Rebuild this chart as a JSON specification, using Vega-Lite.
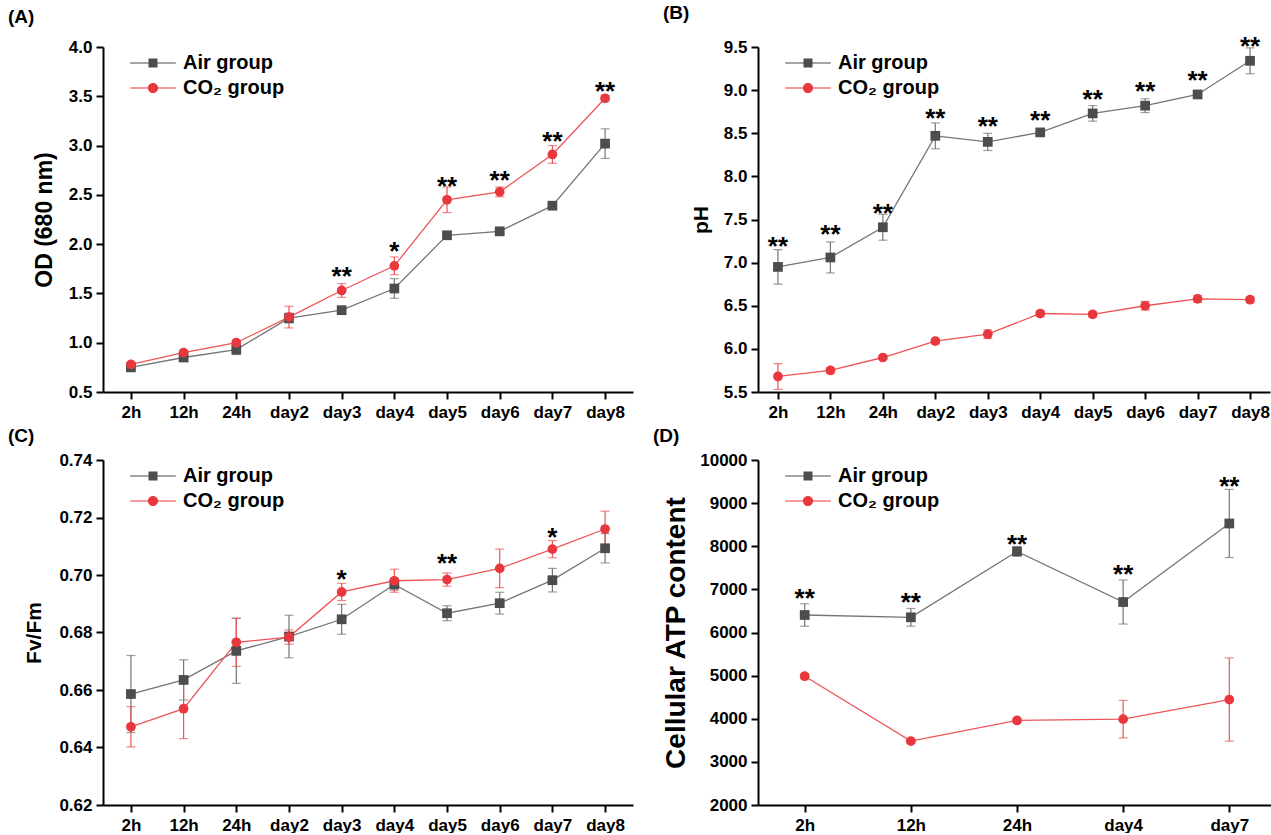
{
  "$schema": "https://vega.github.io/schema/vega-lite/v6.json",
  "padding": {"left": 8, "top": 4, "right": 0, "bottom": 0},
  "spacing": 20,
  "background": "white",
  "config": {
    "font": "Liberation Sans",
    "view": {"stroke": null},
    "axis": {"domainColor": "black", "domainWidth": 2, "tickColor": "black", "tickWidth": 2, "tickSize": 7, "labelFont": "Liberation Sans", "labelFontWeight": "bold", "labelFontSize": 17, "labelColor": "black", "titleFont": "Liberation Sans", "titleFontSize": 22, "titleFontWeight": "bold", "titleColor": "black", "grid": false, "labelPadding": 4, "titlePadding": 12},
    "axisX": {"labelAngle": 0, "labelPadding": 5},
    "title": {"font": "Liberation Sans", "fontSize": 19, "fontWeight": "bold", "anchor": "start", "frame": "group", "color": "black"},
    "legend": {"title": null, "orient": "none", "legendX": 40, "legendY": 6, "labelFont": "Liberation Sans", "labelFontSize": 20, "labelFontWeight": "bold", "labelColor": "black", "symbolSize": 144, "symbolOpacity": 1, "symbolStrokeWidth": 0, "labelOffset": 20, "rowPadding": 5, "padding": 0}
  },
  "resolve": {"scale": {"color": "independent", "shape": "independent"}, "legend": {"color": "independent", "shape": "independent"}},
  "hconcat": [
    {
      "spacing": 7,
      "resolve": {"scale": {"color": "independent", "shape": "independent"}, "legend": {"color": "independent", "shape": "independent"}},
      "vconcat": [
        {
          "width": 530, "height": 345,
          "title": {"text": "(A)", "dx": -95, "offset": 11},
          "data": {"values": [
            {"t": "2h", "g": "Air group", "m": 0.75, "e": 0.02},
            {"t": "12h", "g": "Air group", "m": 0.85, "e": 0.02},
            {"t": "24h", "g": "Air group", "m": 0.93, "e": 0.05},
            {"t": "day2", "g": "Air group", "m": 1.25, "e": 0.05},
            {"t": "day3", "g": "Air group", "m": 1.33, "e": 0.02},
            {"t": "day4", "g": "Air group", "m": 1.55, "e": 0.10},
            {"t": "day5", "g": "Air group", "m": 2.09, "e": 0.02},
            {"t": "day6", "g": "Air group", "m": 2.13, "e": 0.03},
            {"t": "day7", "g": "Air group", "m": 2.39, "e": 0.02},
            {"t": "day8", "g": "Air group", "m": 3.02, "e": 0.15},
            {"t": "2h", "g": "CO₂ group", "m": 0.78, "e": 0.02},
            {"t": "12h", "g": "CO₂ group", "m": 0.90, "e": 0.02},
            {"t": "24h", "g": "CO₂ group", "m": 1.00, "e": 0.02},
            {"t": "day2", "g": "CO₂ group", "m": 1.26, "e": 0.11},
            {"t": "day3", "g": "CO₂ group", "m": 1.53, "e": 0.07},
            {"t": "day4", "g": "CO₂ group", "m": 1.78, "e": 0.09},
            {"t": "day5", "g": "CO₂ group", "m": 2.45, "e": 0.13},
            {"t": "day6", "g": "CO₂ group", "m": 2.53, "e": 0.05},
            {"t": "day7", "g": "CO₂ group", "m": 2.91, "e": 0.09},
            {"t": "day8", "g": "CO₂ group", "m": 3.48, "e": 0.03}
          ]},
          "encoding": {
            "x": {"field": "t", "type": "ordinal", "sort": ["2h", "12h", "24h", "day2", "day3", "day4", "day5", "day6", "day7", "day8"], "scale": {"type": "point", "padding": 0.53}, "axis": {"title": null}},
            "y": {"field": "m", "type": "quantitative", "scale": {"domain": [0.5, 4.0], "nice": false, "zero": false}, "axis": {"title": "OD (680 nm)", "titleFontSize": 23, "values": [0.5, 1.0, 1.5, 2.0, 2.5, 3.0, 3.5, 4.0], "format": ".1f"}}
          },
          "resolve": {"scale": {"color": "independent", "shape": "independent"}, "legend": {"color": "independent", "shape": "independent"}},
          "layer": [
            {"mark": {"type": "errorbar", "ticks": {"size": 9, "thickness": 1.2}, "thickness": 1.2}, "encoding": {"yError": {"field": "e"}, "color": {"field": "g", "type": "nominal", "scale": {"domain": ["Air group", "CO₂ group"], "range": ["#757575", "#ee5358"]}, "legend": null}}},
            {"mark": {"type": "line", "strokeWidth": 1.3}, "encoding": {"color": {"field": "g", "type": "nominal", "scale": {"domain": ["Air group", "CO₂ group"], "range": ["#757575", "#ee5358"]}, "legend": null}}},
            {"mark": {"type": "point", "filled": true, "size": 95, "opacity": 1}, "encoding": {"color": {"field": "g", "type": "nominal", "scale": {"domain": ["Air group", "CO₂ group"], "range": ["#4d4d4d", "#e8383d"]}, "legend": null}, "shape": {"field": "g", "type": "nominal", "scale": {"domain": ["Air group", "CO₂ group"], "range": ["square", "circle"]}, "legend": null}}},
            {"data": {"values": []}, "mark": {"type": "point", "filled": true, "size": 144}, "encoding": {"color": {"field": "g", "type": "nominal", "scale": {"domain": ["Air group", "CO₂ group"], "range": ["#4d4d4d", "#e8383d"]}}, "shape": {"field": "g", "type": "nominal", "scale": {"domain": ["Air group", "CO₂ group"], "range": ["M-3.8,-0.1H3.8V0.1H-3.8Z M-0.75,-0.75H0.75V0.75H-0.75Z", "M-3.8,-0.1H3.8V0.1H-3.8Z M-0.85,0A0.85,0.85 0 1,1 0.85,0A0.85,0.85 0 1,1 -0.85,0Z"]}}}},
            {"data": {"values": [
              {"t": "day3", "m": 1.726, "s": "**"},
              {"t": "day4", "m": 1.98, "s": "*"},
              {"t": "day5", "m": 2.638, "s": "**"},
              {"t": "day6", "m": 2.706, "s": "**"},
              {"t": "day7", "m": 3.095, "s": "**"},
              {"t": "day8", "m": 3.608, "s": "**"}
            ]}, "mark": {"type": "text", "fontSize": 26, "fontWeight": "bold", "baseline": "alphabetic", "dy": 14, "color": "black"}, "encoding": {"text": {"field": "s"}}}
          ]
        },
        {
          "width": 530, "height": 345,
          "title": {"text": "(C)", "dx": -95, "offset": 5},
          "data": {"values": [
            {"t": "2h", "g": "Air group", "m": 0.6586, "e": 0.0134},
            {"t": "12h", "g": "Air group", "m": 0.6635, "e": 0.007},
            {"t": "24h", "g": "Air group", "m": 0.6736, "e": 0.0113},
            {"t": "day2", "g": "Air group", "m": 0.6786, "e": 0.0074},
            {"t": "day3", "g": "Air group", "m": 0.6846, "e": 0.0052},
            {"t": "day4", "g": "Air group", "m": 0.6967, "e": 0.002},
            {"t": "day5", "g": "Air group", "m": 0.6867, "e": 0.0026},
            {"t": "day6", "g": "Air group", "m": 0.6902, "e": 0.0038},
            {"t": "day7", "g": "Air group", "m": 0.6982, "e": 0.0041},
            {"t": "day8", "g": "Air group", "m": 0.7093, "e": 0.0051},
            {"t": "2h", "g": "CO₂ group", "m": 0.6472, "e": 0.007},
            {"t": "12h", "g": "CO₂ group", "m": 0.6535, "e": 0.0104},
            {"t": "24h", "g": "CO₂ group", "m": 0.6766, "e": 0.0084},
            {"t": "day2", "g": "CO₂ group", "m": 0.6784, "e": 0.0025},
            {"t": "day3", "g": "CO₂ group", "m": 0.6941, "e": 0.003},
            {"t": "day4", "g": "CO₂ group", "m": 0.6980, "e": 0.004},
            {"t": "day5", "g": "CO₂ group", "m": 0.6984, "e": 0.0023},
            {"t": "day6", "g": "CO₂ group", "m": 0.7023, "e": 0.0067},
            {"t": "day7", "g": "CO₂ group", "m": 0.7090, "e": 0.003},
            {"t": "day8", "g": "CO₂ group", "m": 0.7160, "e": 0.0062}
          ]},
          "encoding": {
            "x": {"field": "t", "type": "ordinal", "sort": ["2h", "12h", "24h", "day2", "day3", "day4", "day5", "day6", "day7", "day8"], "scale": {"type": "point", "padding": 0.53}, "axis": {"title": null}},
            "y": {"field": "m", "type": "quantitative", "scale": {"domain": [0.62, 0.74], "nice": false, "zero": false}, "axis": {"title": "Fv/Fm", "titleFontSize": 21, "titlePadding": 14, "values": [0.62, 0.64, 0.66, 0.68, 0.70, 0.72, 0.74], "format": ".2f"}}
          },
          "resolve": {"scale": {"color": "independent", "shape": "independent"}, "legend": {"color": "independent", "shape": "independent"}},
          "layer": [
            {"mark": {"type": "errorbar", "ticks": {"size": 9, "thickness": 1.2}, "thickness": 1.2}, "encoding": {"yError": {"field": "e"}, "color": {"field": "g", "type": "nominal", "scale": {"domain": ["Air group", "CO₂ group"], "range": ["#757575", "#ee5358"]}, "legend": null}}},
            {"mark": {"type": "line", "strokeWidth": 1.3}, "encoding": {"color": {"field": "g", "type": "nominal", "scale": {"domain": ["Air group", "CO₂ group"], "range": ["#757575", "#ee5358"]}, "legend": null}}},
            {"mark": {"type": "point", "filled": true, "size": 95, "opacity": 1}, "encoding": {"color": {"field": "g", "type": "nominal", "scale": {"domain": ["Air group", "CO₂ group"], "range": ["#4d4d4d", "#e8383d"]}, "legend": null}, "shape": {"field": "g", "type": "nominal", "scale": {"domain": ["Air group", "CO₂ group"], "range": ["square", "circle"]}, "legend": null}}},
            {"data": {"values": []}, "mark": {"type": "point", "filled": true, "size": 144}, "encoding": {"color": {"field": "g", "type": "nominal", "scale": {"domain": ["Air group", "CO₂ group"], "range": ["#4d4d4d", "#e8383d"]}}, "shape": {"field": "g", "type": "nominal", "scale": {"domain": ["Air group", "CO₂ group"], "range": ["M-3.8,-0.1H3.8V0.1H-3.8Z M-0.75,-0.75H0.75V0.75H-0.75Z", "M-3.8,-0.1H3.8V0.1H-3.8Z M-0.85,0A0.85,0.85 0 1,1 0.85,0A0.85,0.85 0 1,1 -0.85,0Z"]}}}},
            {"data": {"values": [
              {"t": "day3", "m": 0.7003, "s": "*"},
              {"t": "day5", "m": 0.7059, "s": "**"},
              {"t": "day7", "m": 0.7150, "s": "*"}
            ]}, "mark": {"type": "text", "fontSize": 26, "fontWeight": "bold", "baseline": "alphabetic", "dy": 14, "color": "black"}, "encoding": {"text": {"field": "s"}}}
          ]
        }
      ]
    },
    {
      "spacing": 7,
      "resolve": {"scale": {"color": "independent", "shape": "independent"}, "legend": {"color": "independent", "shape": "independent"}},
      "vconcat": [
        {
          "width": 512, "height": 345,
          "title": {"text": "(B)", "dx": -95, "offset": 11},
          "data": {"values": [
            {"t": "2h", "g": "Air group", "m": 6.95, "e": 0.20},
            {"t": "12h", "g": "Air group", "m": 7.06, "e": 0.18},
            {"t": "24h", "g": "Air group", "m": 7.41, "e": 0.15},
            {"t": "day2", "g": "Air group", "m": 8.47, "e": 0.15},
            {"t": "day3", "g": "Air group", "m": 8.40, "e": 0.10},
            {"t": "day4", "g": "Air group", "m": 8.51, "e": 0.03},
            {"t": "day5", "g": "Air group", "m": 8.73, "e": 0.09},
            {"t": "day6", "g": "Air group", "m": 8.82, "e": 0.08},
            {"t": "day7", "g": "Air group", "m": 8.95, "e": 0.03},
            {"t": "day8", "g": "Air group", "m": 9.34, "e": 0.15},
            {"t": "2h", "g": "CO₂ group", "m": 5.68, "e": 0.15},
            {"t": "12h", "g": "CO₂ group", "m": 5.75, "e": 0.03},
            {"t": "24h", "g": "CO₂ group", "m": 5.90, "e": 0.02},
            {"t": "day2", "g": "CO₂ group", "m": 6.09, "e": 0.03},
            {"t": "day3", "g": "CO₂ group", "m": 6.17, "e": 0.05},
            {"t": "day4", "g": "CO₂ group", "m": 6.41, "e": 0.03},
            {"t": "day5", "g": "CO₂ group", "m": 6.40, "e": 0.03},
            {"t": "day6", "g": "CO₂ group", "m": 6.50, "e": 0.05},
            {"t": "day7", "g": "CO₂ group", "m": 6.58, "e": 0.04},
            {"t": "day8", "g": "CO₂ group", "m": 6.57, "e": 0.03}
          ]},
          "encoding": {
            "x": {"field": "t", "type": "ordinal", "sort": ["2h", "12h", "24h", "day2", "day3", "day4", "day5", "day6", "day7", "day8"], "scale": {"type": "point", "padding": 0.38}, "axis": {"title": null}},
            "y": {"field": "m", "type": "quantitative", "scale": {"domain": [5.5, 9.5], "nice": false, "zero": false}, "axis": {"title": "pH", "titleFontSize": 21, "values": [5.5, 6.0, 6.5, 7.0, 7.5, 8.0, 8.5, 9.0, 9.5], "format": ".1f"}}
          },
          "resolve": {"scale": {"color": "independent", "shape": "independent"}, "legend": {"color": "independent", "shape": "independent"}},
          "layer": [
            {"mark": {"type": "errorbar", "ticks": {"size": 9, "thickness": 1.2}, "thickness": 1.2}, "encoding": {"yError": {"field": "e"}, "color": {"field": "g", "type": "nominal", "scale": {"domain": ["Air group", "CO₂ group"], "range": ["#757575", "#ee5358"]}, "legend": null}}},
            {"mark": {"type": "line", "strokeWidth": 1.3}, "encoding": {"color": {"field": "g", "type": "nominal", "scale": {"domain": ["Air group", "CO₂ group"], "range": ["#757575", "#ee5358"]}, "legend": null}}},
            {"mark": {"type": "point", "filled": true, "size": 95, "opacity": 1}, "encoding": {"color": {"field": "g", "type": "nominal", "scale": {"domain": ["Air group", "CO₂ group"], "range": ["#4d4d4d", "#e8383d"]}, "legend": null}, "shape": {"field": "g", "type": "nominal", "scale": {"domain": ["Air group", "CO₂ group"], "range": ["square", "circle"]}, "legend": null}}},
            {"data": {"values": []}, "mark": {"type": "point", "filled": true, "size": 144}, "encoding": {"color": {"field": "g", "type": "nominal", "scale": {"domain": ["Air group", "CO₂ group"], "range": ["#4d4d4d", "#e8383d"]}}, "shape": {"field": "g", "type": "nominal", "scale": {"domain": ["Air group", "CO₂ group"], "range": ["M-3.8,-0.1H3.8V0.1H-3.8Z M-0.75,-0.75H0.75V0.75H-0.75Z", "M-3.8,-0.1H3.8V0.1H-3.8Z M-0.85,0A0.85,0.85 0 1,1 0.85,0A0.85,0.85 0 1,1 -0.85,0Z"]}}}},
            {"data": {"values": [
              {"t": "2h", "m": 7.25, "s": "**"},
              {"t": "12h", "m": 7.39, "s": "**"},
              {"t": "24h", "m": 7.633, "s": "**"},
              {"t": "day2", "m": 8.734, "s": "**"},
              {"t": "day3", "m": 8.637, "s": "**"},
              {"t": "day4", "m": 8.715, "s": "**"},
              {"t": "day5", "m": 8.958, "s": "**"},
              {"t": "day6", "m": 9.043, "s": "**"},
              {"t": "day7", "m": 9.178, "s": "**"},
              {"t": "day8", "m": 9.565, "s": "**"}
            ]}, "mark": {"type": "text", "fontSize": 26, "fontWeight": "bold", "baseline": "alphabetic", "dy": 14, "color": "black"}, "encoding": {"text": {"field": "s"}}}
          ]
        },
        {
          "width": 518, "height": 345,
          "title": {"text": "(D)", "dx": -105, "offset": 5},
          "data": {"values": [
            {"t": "2h", "g": "Air group", "m": 6406, "e": 260},
            {"t": "12h", "g": "Air group", "m": 6352, "e": 205},
            {"t": "24h", "g": "Air group", "m": 7880, "e": 110},
            {"t": "day4", "g": "Air group", "m": 6707, "e": 510},
            {"t": "day7", "g": "Air group", "m": 8528, "e": 790},
            {"t": "2h", "g": "CO₂ group", "m": 4986, "e": 60},
            {"t": "12h", "g": "CO₂ group", "m": 3481, "e": 50},
            {"t": "24h", "g": "CO₂ group", "m": 3960, "e": 50},
            {"t": "day4", "g": "CO₂ group", "m": 3991, "e": 435},
            {"t": "day7", "g": "CO₂ group", "m": 4446, "e": 965}
          ]},
          "encoding": {
            "x": {"field": "t", "type": "ordinal", "sort": ["2h", "12h", "24h", "day4", "day7"], "scale": {"type": "point", "padding": 0.44}, "axis": {"title": null}},
            "y": {"field": "m", "type": "quantitative", "scale": {"domain": [2000, 10000], "nice": false, "zero": false}, "axis": {"title": "Cellular ATP content", "titleFontSize": 28, "titlePadding": 9, "values": [2000, 3000, 4000, 5000, 6000, 7000, 8000, 9000, 10000], "format": "d"}}
          },
          "resolve": {"scale": {"color": "independent", "shape": "independent"}, "legend": {"color": "independent", "shape": "independent"}},
          "layer": [
            {"mark": {"type": "errorbar", "ticks": {"size": 9, "thickness": 1.2}, "thickness": 1.2}, "encoding": {"yError": {"field": "e"}, "color": {"field": "g", "type": "nominal", "scale": {"domain": ["Air group", "CO₂ group"], "range": ["#757575", "#ee5358"]}, "legend": null}}},
            {"mark": {"type": "line", "strokeWidth": 1.3}, "encoding": {"color": {"field": "g", "type": "nominal", "scale": {"domain": ["Air group", "CO₂ group"], "range": ["#757575", "#ee5358"]}, "legend": null}}},
            {"mark": {"type": "point", "filled": true, "size": 95, "opacity": 1}, "encoding": {"color": {"field": "g", "type": "nominal", "scale": {"domain": ["Air group", "CO₂ group"], "range": ["#4d4d4d", "#e8383d"]}, "legend": null}, "shape": {"field": "g", "type": "nominal", "scale": {"domain": ["Air group", "CO₂ group"], "range": ["square", "circle"]}, "legend": null}}},
            {"data": {"values": []}, "mark": {"type": "point", "filled": true, "size": 144}, "encoding": {"color": {"field": "g", "type": "nominal", "scale": {"domain": ["Air group", "CO₂ group"], "range": ["#4d4d4d", "#e8383d"]}}, "shape": {"field": "g", "type": "nominal", "scale": {"domain": ["Air group", "CO₂ group"], "range": ["M-3.8,-0.1H3.8V0.1H-3.8Z M-0.75,-0.75H0.75V0.75H-0.75Z", "M-3.8,-0.1H3.8V0.1H-3.8Z M-0.85,0A0.85,0.85 0 1,1 0.85,0A0.85,0.85 0 1,1 -0.85,0Z"]}}}},
            {"data": {"values": [
              {"t": "2h", "m": 6915, "s": "**"},
              {"t": "12h", "m": 6823, "s": "**"},
              {"t": "24h", "m": 8173, "s": "**"},
              {"t": "day4", "m": 7478, "s": "**"},
              {"t": "day7", "m": 9523, "s": "**"}
            ]}, "mark": {"type": "text", "fontSize": 26, "fontWeight": "bold", "baseline": "alphabetic", "dy": 14, "color": "black"}, "encoding": {"text": {"field": "s"}}}
          ]
        }
      ]
    }
  ]
}
